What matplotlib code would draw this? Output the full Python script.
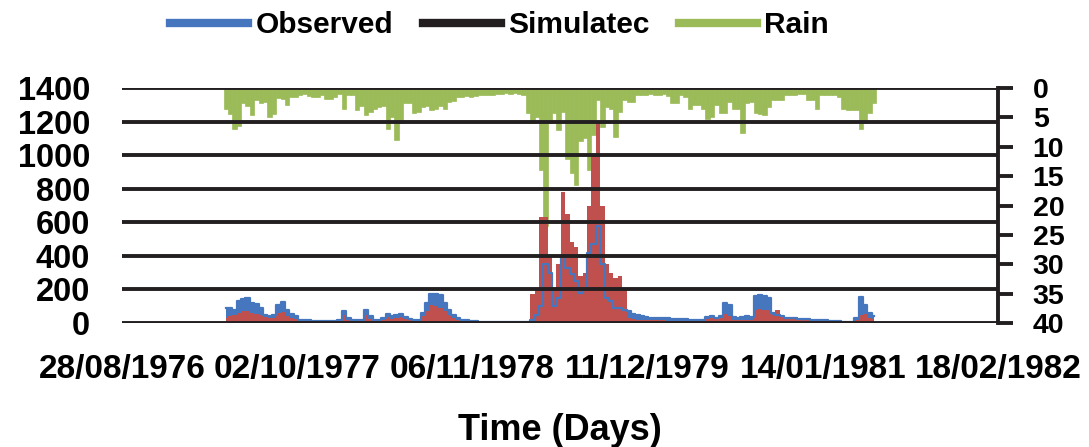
import matplotlib
matplotlib.use('Agg')
import matplotlib.pyplot as plt
from matplotlib.lines import Line2D
import pandas as pd

# ---------------- data (10-day steps starting 22/04/1977) ----------------
start_date = '1977-04-22'
step = '10D'

observed = [90, 90, 80, 130, 145, 150, 120, 115, 90, 50,
            40, 45, 110, 125, 80, 55, 40, 20, 15, 15,
            12, 12, 10, 10, 10, 12, 20, 70, 30, 15,
            15, 20, 80, 40, 20, 20, 30, 55, 40, 50,
            55, 35, 25, 20, 20, 60, 120, 170, 175, 165,
            120, 80, 50, 30, 20, 15, 12, 10, 8, 8,
            6, 4, 3, 3, 3, 3, 3, 3, 3, 3,
            20, 50, 100, 350, 300, 100, 150, 400, 330, 290,
            250, 180, 200, 420, 470, 580, 350, 150, 130, 90,
            90, 80, 70, 55, 45, 40, 35, 30, 30, 28,
            30, 28, 25, 25, 22, 22, 20, 18, 15, 20,
            35, 40, 30, 40, 120, 110, 35, 30, 35, 40,
            35, 160, 165, 160, 150, 60, 50, 40, 30, 30,
            28, 25, 25, 22, 20, 18, 15, 15, 12, 12,
            10, 8, 5, 6, 30, 155, 110, 60, 40]

simulated = [30, 40, 50, 60, 70, 70, 60, 55, 50, 35,
             30, 30, 60, 65, 40, 30, 25, 12, 10, 10,
             8, 8, 6, 6, 6, 8, 15, 45, 20, 10,
             10, 15, 45, 25, 15, 15, 20, 35, 25, 30,
             35, 25, 15, 15, 12, 40, 70, 110, 100, 90,
             70, 45, 30, 20, 12, 10, 8, 6, 5, 5,
             4, 3, 3, 3, 3, 3, 3, 3, 3, 5,
             175, 200, 630, 630, 400, 200, 350, 780, 650, 480,
             450, 280, 300, 700, 1000, 1200, 700, 350, 300, 270,
             280, 200, 30, 25, 20, 20, 18, 15, 15, 15,
             15, 14, 12, 12, 12, 10, 10, 10, 8, 12,
             25, 30, 25, 30, 55, 40, 20, 18, 20, 20,
             18, 80, 85, 80, 75, 50, 80, 50, 25, 25,
             25, 22, 22, 20, 18, 15, 15, 12, 12, 10,
             10, 6, 4, 5, 20, 50, 55, 30, 25]

rain = [3.5, 4.5, 7.0, 6.5, 2.6, 3.0, 4.6, 2.0, 2.6, 2.4,
        5.0, 4.5, 1.7, 1.8, 2.9, 1.5, 1.5, 1.2, 1.0, 1.3,
        1.5, 1.5, 1.2, 1.8, 1.8, 1.5, 1.0, 3.5, 1.2, 1.2,
        3.7, 3.0, 4.6, 4.0, 3.5, 3.2, 3.0, 7.0, 5.0, 8.8,
        6.0, 2.6, 2.5, 4.3, 4.0, 3.2, 3.0, 3.7, 3.5, 3.0,
        3.5, 2.3, 2.2, 1.5, 1.5, 1.4, 1.5, 1.3, 1.2, 1.2,
        1.1, 1.2, 1.0, 1.0, 0.9, 1.0, 0.9, 1.0, 1.2, 4.3,
        6.0, 5.0, 14.0, 23.5, 6.0, 4.3, 7.2, 4.0, 12.0, 14.5,
        16.5, 9.0, 8.5, 14.0, 8.0, 2.0, 6.6, 3.2, 3.5, 8.3,
        4.0, 2.0, 2.3, 2.3, 1.2, 1.2, 1.2, 1.0, 1.2, 1.2,
        1.0, 1.3, 2.6, 2.6, 1.2, 1.5, 3.5, 2.9, 2.9, 3.5,
        5.2, 5.0, 2.9, 4.3, 4.3, 2.3, 3.5, 3.5, 7.7, 2.5,
        2.3, 4.3, 4.5, 4.6, 3.2, 2.0, 2.0, 2.0, 1.2, 1.2,
        1.2, 1.0, 1.0, 2.0, 2.0, 3.5, 1.2, 1.2, 1.2, 1.2,
        1.5, 3.5, 3.7, 3.7, 3.7, 7.0, 6.0, 4.3, 2.6]

x_tick_labels = ['28/08/1976', '02/10/1977', '06/11/1978',
                 '11/12/1979', '14/01/1981', '18/02/1982']
flow_ticks = [0, 200, 400, 600, 800, 1000, 1200, 1400]
rain_ticks = [0, 5, 10, 15, 20, 25, 30, 35, 40]

series_labels = ['Observed', 'Simulatec', 'Rain']
# ------------------------------------------------------------------------

BLUE = '#4677BE'
RED = '#C0504D'
GREEN = '#9BBB59'
BLACK = '#231F20'
FONT = 'Liberation Sans'

dates = pd.date_range(start_date, periods=len(observed), freq=step)
xticks = pd.to_datetime(x_tick_labels, format='%d/%m/%Y')

fig = plt.figure(figsize=(10.89, 4.47), dpi=100)
ax = fig.add_axes([0.112, 0.2774, 0.8044, 0.5256])
ax2 = ax.twinx()
ax.set_zorder(ax2.get_zorder() + 1)
ax.patch.set_visible(False)

# rain (hanging from the top of the inverted right axis)
ax2.bar(dates, rain, width=10, color=GREEN, edgecolor=GREEN, linewidth=0.5)
ax2.set_ylim(40, 0)
ax2.set_yticks(rain_ticks)
ax2.set_yticklabels([str(v) for v in rain_ticks], fontsize=20.5,
                    fontweight='bold', family=FONT)
ax2.tick_params(axis='y', direction='out', length=11, width=2.8,
                color=BLACK, pad=14)
for s in ['top', 'left', 'bottom']:
    ax2.spines[s].set_visible(False)
ax2.spines['right'].set_linewidth(2.8)
ax2.spines['right'].set_color(BLACK)

# flows
ax.fill_between(dates, 0, observed, step='mid', color=BLUE, lw=0, zorder=1)
ax.fill_between(dates, 0, simulated, step='mid', color=RED, lw=0, zorder=1.2)
ax.step(dates, observed, where='mid', color=BLUE, lw=1.6, zorder=1.4)

ax.set_ylim(0, 1400)
ax.set_yticks(flow_ticks)
ax.set_yticklabels([str(v) for v in flow_ticks], fontsize=23.5,
                   fontweight='bold', family=FONT)
ax.tick_params(axis='y', length=0, pad=23)
ax.set_xlim(xticks[0], xticks[-1])
ax.set_xticks(xticks)
ax.set_xticklabels(x_tick_labels, fontsize=24, fontweight='bold', family=FONT)
ax.tick_params(axis='x', length=0, pad=22)
for s in ax.spines.values():
    s.set_visible(False)
ax.yaxis.grid(True, color=BLACK, lw=2.8)
ax.set_axisbelow(False)
ax2.set_xlim(xticks[0], xticks[-1])

fig.text(0.514, 0.036, 'Time (Days)', ha='center', va='center',
         fontsize=26, fontweight='bold', family=FONT)

handles = [Line2D([], [], color=BLUE, lw=6),
           Line2D([], [], color=BLACK, lw=6),
           Line2D([], [], color=GREEN, lw=6)]
fig.legend(handles, series_labels, loc='upper center',
           bbox_to_anchor=(0.459, 1.035), ncol=3, frameon=False,
           prop={'family': FONT, 'weight': 'bold', 'size': 21.5},
           handlelength=2.6, handletextpad=0.25, columnspacing=1.0)

fig.savefig('out.png', dpi=100)
